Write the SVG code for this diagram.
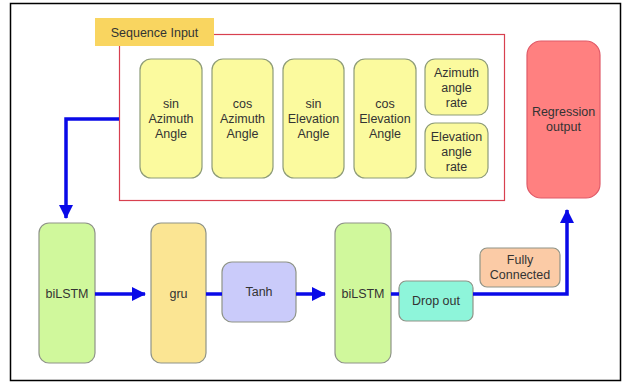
<svg xmlns="http://www.w3.org/2000/svg" width="623" height="382" viewBox="0 0 623 382">
  <defs>
    <style>
      .lbl { font-family: "Liberation Sans", Arial, sans-serif; font-size: 12.5px; fill: #333333; text-anchor: middle; }
      .feat { fill: #FBFA9E; stroke: #8E9C78; stroke-width: 1.2; }
      .node { stroke: #8F9488; stroke-width: 1.2; }
      .wire { fill: none; stroke: #0A0AE8; stroke-width: 3.5; }
    </style>
    <marker id="arrow" viewBox="0 0 14 14" refX="13" refY="7" markerWidth="14" markerHeight="14" markerUnits="userSpaceOnUse" orient="auto">
      <path d="M0,0 L14,7 L0,14 Z" fill="#0A0AE8"/>
    </marker>
  </defs>

  <rect x="0" y="0" width="623" height="382" fill="#FFFFFF"/>
  <!-- outer frame -->
  <rect x="10.5" y="3.5" width="610" height="377" fill="none" stroke="#000000" stroke-width="1.5"/>

  <!-- sequence input group -->
  <g id="sequence-input">
    <rect x="119.5" y="34.5" width="385" height="166" fill="#FFFFFF" stroke="#D8404F" stroke-width="1.2"/>
    <rect x="95" y="18" width="119" height="28" fill="#F9D560"/>
    <text class="lbl" x="154.5" y="37">Sequence Input</text>
  </g>

  <g id="sin-azimuth">
    <rect class="feat" x="140" y="59" width="62" height="119" rx="11"/>
    <text class="lbl" x="171" y="108">sin</text>
    <text class="lbl" x="171" y="123">Azimuth</text>
    <text class="lbl" x="171" y="138">Angle</text>
  </g>
  <g id="cos-azimuth">
    <rect class="feat" x="212" y="59" width="61" height="119" rx="11"/>
    <text class="lbl" x="242.5" y="108">cos</text>
    <text class="lbl" x="242.5" y="123">Azimuth</text>
    <text class="lbl" x="242.5" y="138">Angle</text>
  </g>
  <g id="sin-elevation">
    <rect class="feat" x="283" y="59" width="61" height="119" rx="11"/>
    <text class="lbl" x="313.5" y="108">sin</text>
    <text class="lbl" x="313.5" y="123">Elevation</text>
    <text class="lbl" x="313.5" y="138">Angle</text>
  </g>
  <g id="cos-elevation">
    <rect class="feat" x="354" y="59" width="62" height="119" rx="11"/>
    <text class="lbl" x="385" y="108">cos</text>
    <text class="lbl" x="385" y="123">Elevation</text>
    <text class="lbl" x="385" y="138">Angle</text>
  </g>
  <g id="azimuth-rate">
    <rect class="feat" x="425" y="59" width="63" height="56" rx="10"/>
    <text class="lbl" x="456.5" y="77">Azimuth</text>
    <text class="lbl" x="456.5" y="92">angle</text>
    <text class="lbl" x="456.5" y="107">rate</text>
  </g>
  <g id="elevation-rate">
    <rect class="feat" x="425" y="123" width="63" height="55" rx="10"/>
    <text class="lbl" x="456.5" y="141">Elevation</text>
    <text class="lbl" x="456.5" y="156">angle</text>
    <text class="lbl" x="456.5" y="171">rate</text>
  </g>

  <g id="regression-output">
    <rect x="527" y="41" width="73" height="157" rx="14" fill="#FF8080" stroke="#E05A68" stroke-width="1.2"/>
    <text class="lbl" x="563.5" y="116">Regression</text>
    <text class="lbl" x="563.5" y="131">output</text>
  </g>

  <!-- processing chain -->
  <g id="bilstm-1">
    <rect class="node" x="39" y="223" width="56" height="140" rx="10" fill="#D0F89C"/>
    <text class="lbl" x="67" y="298">biLSTM</text>
  </g>
  <g id="gru">
    <rect class="node" x="151" y="223" width="55" height="140" rx="10" fill="#FBE593"/>
    <text class="lbl" x="178.5" y="298">gru</text>
  </g>
  <g id="tanh">
    <rect class="node" x="222" y="262" width="74" height="60" rx="10" fill="#CACBFA"/>
    <text class="lbl" x="259" y="296">Tanh</text>
  </g>
  <g id="bilstm-2">
    <rect class="node" x="335" y="223" width="56" height="140" rx="10" fill="#D0F89C"/>
    <text class="lbl" x="363" y="298">biLSTM</text>
  </g>
  <g id="drop-out">
    <rect class="node" x="399" y="281" width="74" height="40" rx="7" fill="#8EF5DA"/>
    <text class="lbl" x="436" y="305">Drop out</text>
  </g>
  <g id="fully-connected">
    <rect class="node" x="480" y="248" width="80" height="39" rx="7" fill="#FBCBA6"/>
    <text class="lbl" x="520" y="264">Fully</text>
    <text class="lbl" x="520" y="279">Connected</text>
  </g>

  <!-- connectors -->
  <g id="connectors">
    <path class="wire" d="M119,119 H66 V218" marker-end="url(#arrow)"/>
    <path class="wire" d="M95,294 H145" marker-end="url(#arrow)"/>
    <path class="wire" d="M206,294 H222"/>
    <path class="wire" d="M296,294 H325" marker-end="url(#arrow)"/>
    <path class="wire" d="M391,294 H399"/>
    <path class="wire" d="M473,294 H567 V210" marker-end="url(#arrow)"/>
  </g>
</svg>
